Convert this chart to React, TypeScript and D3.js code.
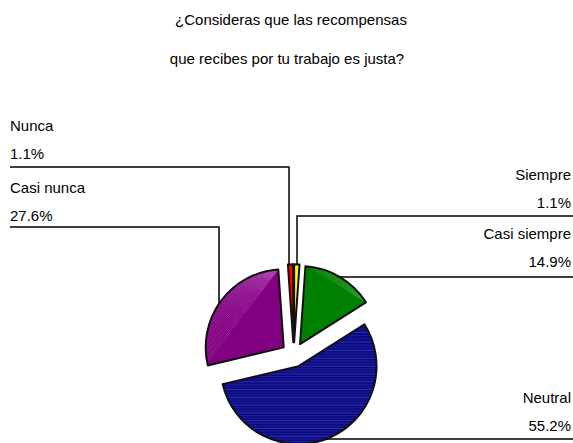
import React from "react";
import * as d3 from "d3";

const titleLines = ["¿Consideras que las recompensas", "que recibes por tu trabajo es justa?"];
const categories = ["Siempre", "Casi siempre", "Neutral", "Casi nunca", "Nunca"];
const values = [1.1, 14.9, 55.2, 27.6, 1.1];
const percentLabels = ["1.1%", "14.9%", "55.2%", "27.6%", "1.1%"];
const colors = ["#ffff00", "#008000", "#0a0a84", "#800080", "#ff0000"];
const sheenColors = ["#ffff80", "#40a040", "#5050b8", "#b050b0", "#ff8080"];

// label layout: side, first baseline, leader y, elbow x (vertical leader) or null (horizontal)
const labelLayout: Record<string, { side: "left" | "right"; base: number; lineY: number; elbowX: number | null }> = {
  Nunca: { side: "left", base: 131, lineY: 167, elbowX: 289 },
  "Casi nunca": { side: "left", base: 193, lineY: 227, elbowX: 219 },
  Siempre: { side: "right", base: 180, lineY: 216, elbowX: 297 },
  "Casi siempre": { side: "right", base: 239, lineY: 277, elbowX: null },
  Neutral: { side: "right", base: 403, lineY: 439, elbowX: null },
};

const W = 573;
const H = 443;
const cx = 293.7;
const cy = 354.7;
const R = 78;
const EXPLODE = 12.4;

export default function App() {
  const pie = d3.pie<number>().sort(null).value((d) => d)(values);
  const arc = d3.arc<d3.PieArcDatum<number>>().innerRadius(0).outerRadius(R);
  const font = "'Liberation Sans', Arial, sans-serif";

  const slices = pie.map((p, i) => {
    const mid = (p.startAngle + p.endAngle) / 2;
    const ox = cx + EXPLODE * Math.sin(mid);
    const oy = cy - EXPLODE * Math.cos(mid);
    return { p, i, ox, oy };
  });

  const pt = (a: number): [number, number] => [R * Math.sin(a), -R * Math.cos(a)];

  return (
    <svg width={W} height={H} style={{ position: "absolute", left: 0, top: 0 }} fontFamily={font}>
      <defs>
        {slices.map(({ p, i }) => (
          <clipPath id={"clip" + i} key={i}>
            <path d={arc(p) || ""} />
          </clipPath>
        ))}
      </defs>
      <rect width={W} height={H} fill="#fff" />
      {titleLines.map((t, i) => (
        <text key={i} x={i === 0 ? 291 : 287} y={i === 0 ? 25 : 64} textAnchor="middle" fontSize={15} fill="#000">
          {t}
        </text>
      ))}
      {slices.map(({ p, i, ox, oy }) => {
        const span = p.endAngle - p.startAngle;
        const n = Math.max(2, Math.round((span * 180) / Math.PI / 2.2));
        const end = pt(p.endAngle);
        const fan: JSX.Element[] = [];
        if (i === 2) {
          // horizontal scan-like seams
          for (let y = -R; y <= R; y += 2.6) {
            const k = Math.round((y + R) / 2.6);
            fan.push(
              <line key={"h" + k} x1={-R} x2={R} y1={y} y2={y + (y < -20 ? (y + 20) * 0.25 : 0)}
                stroke={sheenColors[i]} strokeWidth={0.8} opacity={k % 3 === 0 ? 0.75 : 0.4} />
            );
          }
        } else {
          for (let k = 1; k < n; k++) {
            const a = p.startAngle + (span * k) / n;
            const q = pt(a);
            fan.push(
              <line key={"f" + k} x1={end[0]} y1={end[1]} x2={q[0]} y2={q[1]}
                stroke={sheenColors[i]} strokeWidth={0.8} opacity={k % 2 === 0 ? 0.7 : 0.45} />
            );
          }
        }
        return (
          <g key={i} transform={`translate(${ox},${oy})`}>
            <path d={arc(p) || ""} fill={colors[i]} />
            {i !== 0 && i !== 4 && <g clipPath={`url(#clip${i})`}>{fan}</g>}
            <path d={arc(p) || ""} fill="none" stroke="#111" strokeWidth={2} strokeLinejoin="round" />
          </g>
        );
      })}
      {slices.map(({ i, ox, oy }) => {
        const name = categories[i];
        const L = labelLayout[name];
        const tx = L.side === "left" ? 10 : 571;
        const anchor = L.side === "left" ? "start" : "end";
        let pts: [number, number][];
        if (L.elbowX !== null) {
          const dx = L.elbowX - ox;
          const ay = oy - Math.sqrt(Math.max(0, R * R - dx * dx));
          const x0 = L.side === "left" ? 10 : W;
          pts = [
            [x0, L.lineY],
            [L.elbowX, L.lineY],
            [L.elbowX, ay],
          ];
        } else {
          const dy = L.lineY - oy;
          const ax = ox + Math.sqrt(Math.max(0, R * R - dy * dy));
          pts = [
            [W, L.lineY],
            [ax, L.lineY],
          ];
        }
        return (
          <g key={"l" + i}>
            <text x={tx} y={L.base} textAnchor={anchor} fontSize={15} fill="#000">
              {name}
            </text>
            <text x={tx} y={L.base + 28} textAnchor={anchor} fontSize={15} fill="#000">
              {percentLabels[i]}
            </text>
            <path d={d3.line()(pts) || ""} fill="none" stroke="#000" strokeWidth={1.5} />
          </g>
        );
      })}
    </svg>
  );
}
